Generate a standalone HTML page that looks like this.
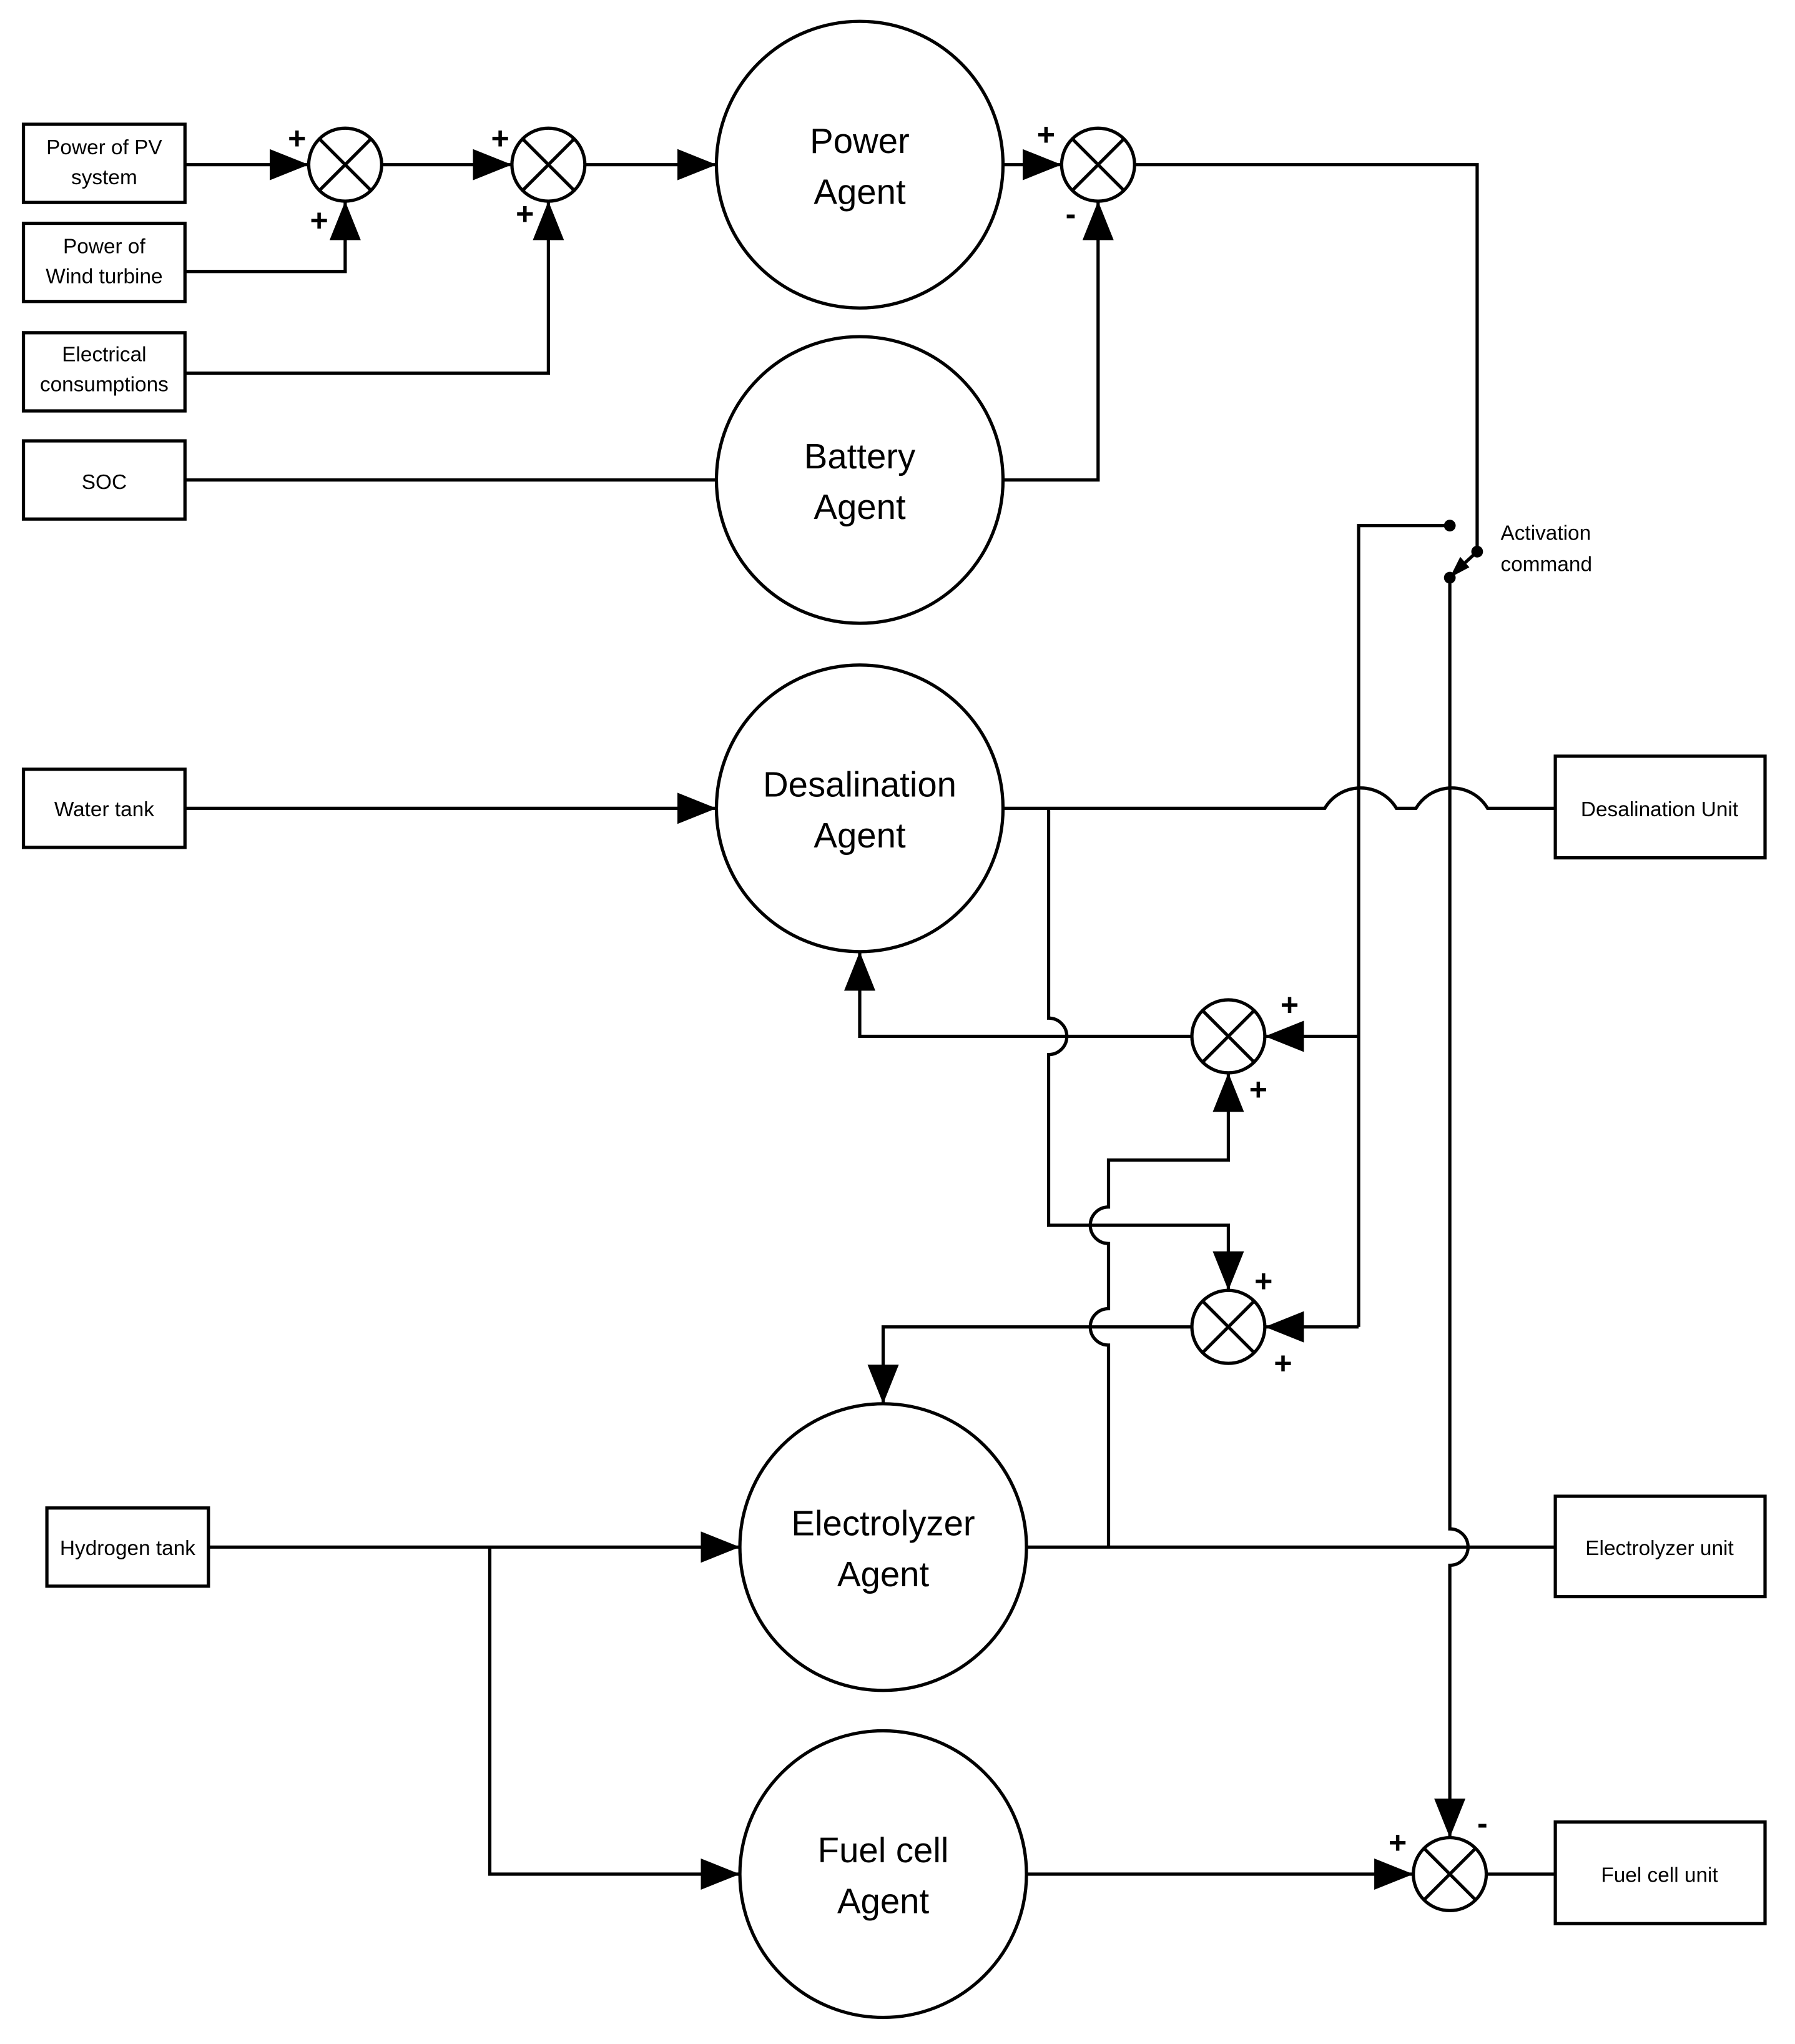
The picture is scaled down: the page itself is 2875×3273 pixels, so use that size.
<!DOCTYPE html>
<html><head><meta charset="utf-8"><style>
html,body{margin:0;padding:0;background:#fff}
svg{display:block}
text{font-family:"Liberation Sans","DejaVu Sans",sans-serif;fill:#000}
</style></head><body>
<svg width="2875" height="3273" viewBox="0 0 1378 1568" xmlns="http://www.w3.org/2000/svg">
<defs>
<marker id="a" markerUnits="userSpaceOnUse" markerWidth="32" markerHeight="24" refX="30" refY="12" orient="auto">
<path d="M0,0 L30,12 L0,24 Z" fill="#000"/></marker>
</defs>
<g fill="none" stroke="#000" stroke-width="2.5">
<rect x="18" y="95" width="124" height="60"/>
<rect x="18" y="171" width="124" height="60"/>
<rect x="18" y="255" width="124" height="60"/>
<rect x="18" y="338" width="124" height="60"/>
<rect x="18" y="590" width="124" height="60"/>
<rect x="36" y="1157" width="124" height="60"/>
<rect x="1194" y="580" width="161" height="78"/>
<rect x="1194" y="1148" width="161" height="77"/>
<rect x="1194" y="1398" width="161" height="78"/>
<circle cx="660" cy="126" r="110"/>
<circle cx="660" cy="368" r="110"/>
<circle cx="660" cy="620" r="110"/>
<circle cx="678" cy="1187" r="110"/>
<circle cx="678" cy="1438" r="110"/>
</g>
<g fill="none" stroke="#000" stroke-width="2.5">
<g transform="translate(265,126)"><circle r="28"/><path d="M-20,-20L20,20M20,-20L-20,20"/></g>
<g transform="translate(421,126)"><circle r="28"/><path d="M-20,-20L20,20M20,-20L-20,20"/></g>
<g transform="translate(843,126)"><circle r="28"/><path d="M-20,-20L20,20M20,-20L-20,20"/></g>
<g transform="translate(943,795)"><circle r="28"/><path d="M-20,-20L20,20M20,-20L-20,20"/></g>
<g transform="translate(943,1018)"><circle r="28"/><path d="M-20,-20L20,20M20,-20L-20,20"/></g>
<g transform="translate(1113,1438)"><circle r="28"/><path d="M-20,-20L20,20M20,-20L-20,20"/></g>
</g>
<g fill="none" stroke="#000" stroke-width="2.5">
<path d="M142,126 L237,126" marker-end="url(#a)"/>
<path d="M142,208 L265,208 L265,154" marker-end="url(#a)"/>
<path d="M293,126 L393,126" marker-end="url(#a)"/>
<path d="M142,286 L421,286 L421,154" marker-end="url(#a)"/>
<path d="M449,126 L550,126" marker-end="url(#a)"/>
<path d="M770,126 L815,126" marker-end="url(#a)"/>
<path d="M142,368 L550,368"/>
<path d="M770,368 L843,368 L843,154" marker-end="url(#a)"/>
<path d="M871,126 L1134,126 L1134,423"/>
<path d="M1134,423 L1122,434"/>
<path d="M1113,403 L1043,403 L1043,1018"/>
<path d="M1043,795 L971,795" marker-end="url(#a)"/>
<path d="M1043,1018 L971,1018" marker-end="url(#a)"/>
<path d="M1113,443 L1113,1173 A14,14 0 0 1 1113,1201 L1113,1410" marker-end="url(#a)"/>
<path d="M142,620 L550,620" marker-end="url(#a)"/>
<path d="M770,620 L1017,620 A32,32 0 0 1 1072,620 L1087,620 A32,32 0 0 1 1142,620 L1194,620"/>
<path d="M805,620 L805,781 A14,14 0 0 1 805,809 L805,940 L943,940 L943,990" marker-end="url(#a)"/>
<path d="M915,795 L660,795 L660,730" marker-end="url(#a)"/>
<path d="M915,1018 L678,1018 L678,1077" marker-end="url(#a)"/>
<path d="M788,1187 L1194,1187"/>
<path d="M851,1187 L851,1032 A14,14 0 0 1 851,1004 L851,954 A14,14 0 0 1 851,926 L851,890 L943,890 L943,823" marker-end="url(#a)"/>
<path d="M160,1187 L568,1187" marker-end="url(#a)"/>
<path d="M376,1187 L376,1438 L568,1438" marker-end="url(#a)"/>
<path d="M788,1438 L1085,1438" marker-end="url(#a)"/>
<path d="M1141,1438 L1194,1438"/>
</g>
<path d="M1113,443 L1121,427 L1128,435 Z" fill="#000"/>
<g fill="#000">
<circle cx="1113" cy="403" r="4.5"/><circle cx="1134" cy="423" r="4.5"/><circle cx="1113" cy="443" r="4.5"/>
</g>
<g font-size="24" font-weight="bold" text-anchor="middle">
<text x="228" y="114">+</text><text x="245" y="177">+</text>
<text x="384" y="114">+</text><text x="403" y="172">+</text>
<text x="803" y="111">+</text><text x="822" y="172">-</text>
<text x="990" y="779">+</text><text x="966" y="844">+</text>
<text x="970" y="991">+</text><text x="985" y="1054">+</text>
<text x="1073" y="1422">+</text><text x="1138" y="1407">-</text>
</g>
<g font-size="16" text-anchor="middle">
<text x="80" y="118">Power of PV</text><text x="80" y="141">system</text>
<text x="80" y="194">Power of</text><text x="80" y="217">Wind turbine</text>
<text x="80" y="277">Electrical</text><text x="80" y="300">consumptions</text>
<text x="80" y="375">SOC</text>
<text x="80" y="626">Water tank</text>
<text x="98" y="1193">Hydrogen tank</text>
<text x="1274" y="626">Desalination Unit</text>
<text x="1274" y="1193">Electrolyzer unit</text>
<text x="1274" y="1444">Fuel cell unit</text>
<text x="1152" y="414" text-anchor="start">Activation</text>
<text x="1152" y="438" text-anchor="start">command</text>
</g>
<g font-size="27" text-anchor="middle">
<text x="660" y="117">Power</text><text x="660" y="156">Agent</text>
<text x="660" y="359">Battery</text><text x="660" y="398">Agent</text>
<text x="660" y="611">Desalination</text><text x="660" y="650">Agent</text>
<text x="678" y="1178">Electrolyzer</text><text x="678" y="1217">Agent</text>
<text x="678" y="1429">Fuel cell</text><text x="678" y="1468">Agent</text>
</g>
</svg>
</body></html>
